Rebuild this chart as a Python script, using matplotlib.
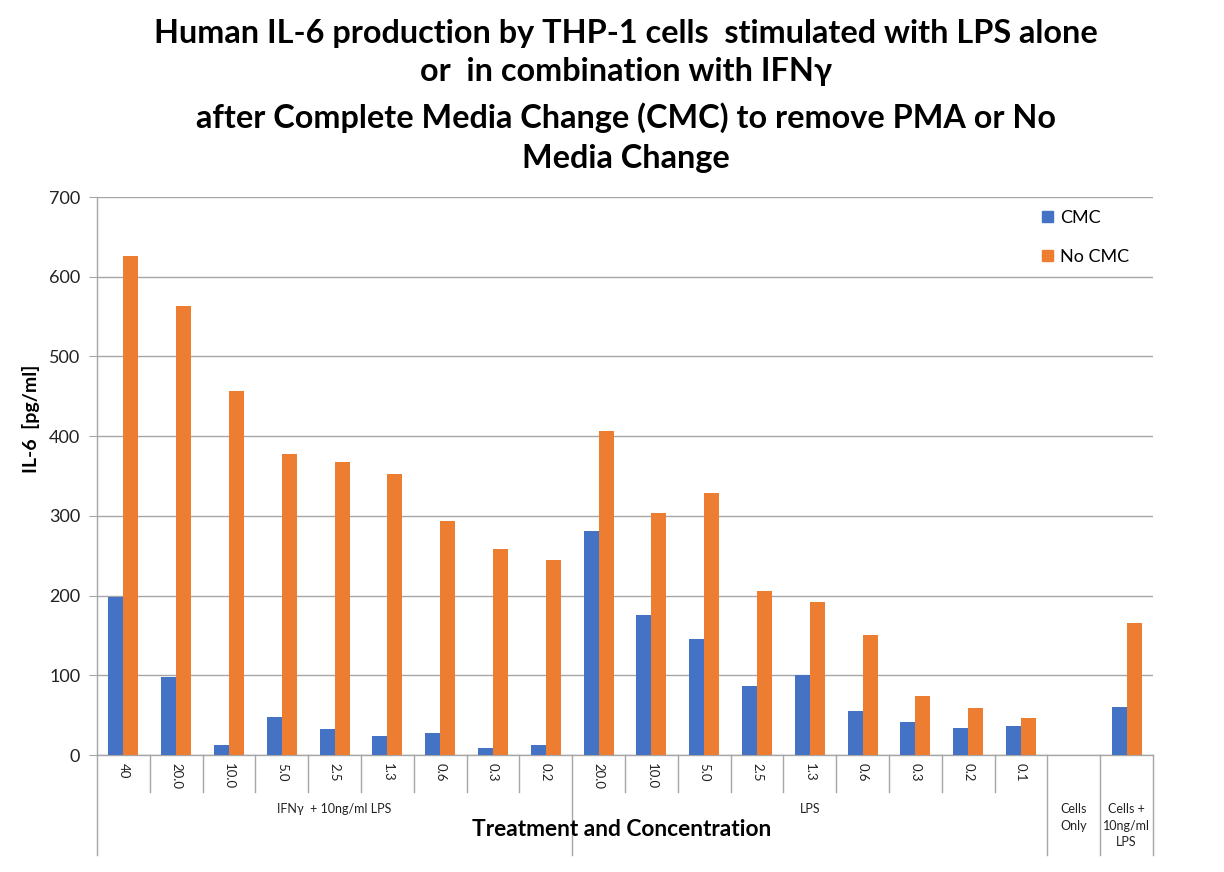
import matplotlib
matplotlib.use("Agg")
import matplotlib.pyplot as plt
import numpy as np
from matplotlib.transforms import blended_transform_factory
from matplotlib.patches import Patch

plt.rcParams['font.family'] = ['Lato', 'DejaVu Sans']

# ---- data ----
groups = ["IFNγ  + 10ng/ml LPS", "LPS", "Cells\nOnly", "Cells +\n10ng/ml\nLPS"]
group_sizes = [9, 9, 1, 1]
concentrations = ["40", "20.0", "10.0", "5.0", "2.5", "1.3", "0.6", "0.3", "0.2",
                  "20.0", "10.0", "5.0", "2.5", "1.3", "0.6", "0.3", "0.2", "0.1",
                  "", ""]
cmc = [198, 98, 12, 48, 33, 24, 28, 9, 13,
       281, 176, 145, 87, 100, 55, 41, 34, 36,
       0, 60]
no_cmc = [626, 563, 457, 378, 367, 352, 293, 259, 244,
          406, 303, 329, 206, 192, 151, 74, 59, 47,
          0, 165]
series_names = ["CMC", "No CMC"]
colors = ["#4472C4", "#ED7D31"]

W, H = 1224, 872
fig = plt.figure(figsize=(W / 100, H / 100), dpi=100)
ax_l, ax_r, ax_b, ax_t = 97, 1153, 755, 197
ax = fig.add_axes([ax_l / W, 1 - ax_b / H, (ax_r - ax_l) / W, (ax_b - ax_t) / H])

n = len(cmc)
x = np.arange(n)
bw = 0.284
ax.bar(x - bw / 2, cmc, bw, color=colors[0], zorder=3)
ax.bar(x + bw / 2, no_cmc, bw, color=colors[1], zorder=3)

ax.set_xlim(-0.5, n - 0.5)
ax.set_ylim(0, 700)
ax.set_yticks(np.arange(0, 701, 100))
ax.tick_params(axis='y', labelsize=13, length=6, color='#A6A6A6', pad=6, labelcolor='#222222')
ax.set_xticks([])
ax.grid(axis='y', color='#A6A6A6', linewidth=1, zorder=0)
for s in ['top', 'right']:
    ax.spines[s].set_visible(False)
for s in ['left', 'bottom']:
    ax.spines[s].set_color('#A6A6A6')
    ax.spines[s].set_linewidth(1)

# multi-level category axis
axh = ax_b - ax_t
tr = blended_transform_factory(ax.transData, ax.transAxes)
short = -37 / axh
long_ = -100 / axh
bounds = np.cumsum([0] + group_sizes) - 0.5
for i in range(n + 1):
    xb = i - 0.5
    if np.any(np.isclose(bounds, xb)):
        ax.plot([xb, xb], [0, long_], transform=tr, color='#A6A6A6', lw=1, clip_on=False)
    else:
        ax.plot([xb, xb], [0, short], transform=tr, color='#A6A6A6', lw=1, clip_on=False)
for i, lab in enumerate(concentrations):
    if lab:
        ax.text(i, -8 / axh, lab, transform=tr, rotation=-90, ha='center', va='top',
                fontsize=9.5, color='#222222')
for gi, g in enumerate(groups):
    cx = (bounds[gi] + bounds[gi + 1]) / 2
    ax.text(cx, -48 / axh, g, transform=tr, ha='center', va='top', fontsize=9,
            color='#222222', linespacing=1.45)

fig.text(622 / W, 1 - 829 / H, "Treatment and Concentration", ha='center', va='center',
         fontsize=16.4, fontweight='bold')
fig.text(31 / W, 1 - 473 / H, "IL-6  [pg/ml]", ha='left', va='center', rotation=90,
         rotation_mode='anchor', fontsize=14, fontweight='bold')

title_lines = ["Human IL-6 production by THP-1 cells  stimulated with LPS alone",
               "or  in combination with IFNγ",
               "after Complete Media Change (CMC) to remove PMA or No",
               "Media Change"]
title_base = [43, 81, 128, 168]
for t, yy in zip(title_lines, title_base):
    fig.text(626 / W, 1 - yy / H, t, ha='center', va='baseline', fontsize=23.3, fontweight='bold')

handles = [Patch(color=c) for c in colors]
leg = fig.legend(handles, series_names, loc='upper left', bbox_to_anchor=(1042 / W, 1 - 210 / H),
                 frameon=False, fontsize=13, handlelength=0.6, handleheight=0.6,
                 handletextpad=0.4, labelspacing=1.28, borderpad=0, borderaxespad=0)

fig.savefig("out.png", dpi=100)
